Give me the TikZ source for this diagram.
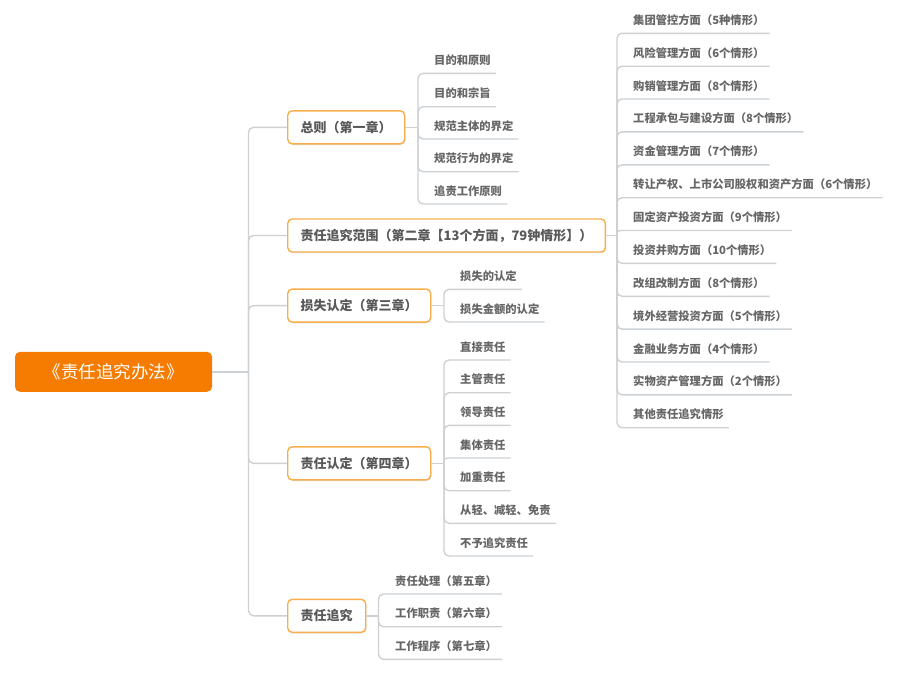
\documentclass[tikz,border=0pt]{standalone}
\usepackage{fontspec}
\setmainfont{Noto Sans CJK SC}
\usetikzlibrary{calc,shadows}
\definecolor{rootor}{HTML}{F57C00}
\definecolor{boxor}{HTML}{F8AE4C}
\definecolor{conncol}{HTML}{CDD1D4}
\definecolor{txtA}{HTML}{595959}
\definecolor{txtB}{HTML}{666666}
\begin{document}
\begin{tikzpicture}[x=1pt,y=-1pt,
  rootbox/.style={fill=rootor, rounded corners=5pt, text=white,
    font=\fontsize{17.5}{20}\selectfont, minimum width=197pt, minimum height=40pt,
    inner sep=0pt, text height=14.5pt, text depth=1.2pt},
  topic/.style={draw=boxor, line width=1.4pt, fill=white, rounded corners=4.5pt,
    text=txtA, font=\fontsize{13}{15}\selectfont\bfseries, minimum height=33pt,
    inner xsep=13pt, inner ysep=0pt, text height=10.8pt, text depth=1pt, anchor=west,
    drop shadow={shadow xshift=0.6pt, shadow yshift=-1.2pt, opacity=0.12, fill=black}},
  leaf/.style={text=txtB, font=\fontsize{11.3}{13}\selectfont\bfseries,
    inner xsep=0pt, inner ysep=8pt, text height=9.4pt, text depth=0.8pt, anchor=south west},
  link/.style={draw=conncol, line width=1.4pt, rounded corners=5pt},
]
\useasboundingbox (0,0) rectangle (902,672);

% ---------- nodes ----------
\node[rootbox] (root) at (113.5,371.8) {《责任追究办法》};

\node[topic] (t1) at (287,127.3) {总则（第一章）};
\node[topic] (t2) at (287,235.5) {责任追究范围（第二章【13个方面，79钟情形】）};
\node[topic] (t3) at (287,305.6) {损失认定（第三章）};
\node[topic] (t4) at (287,463.3) {责任认定（第四章）};
\node[topic] (t5) at (287,615.8) {责任追究};

% group 1
\node[leaf] (a1) at (434,73.3) {目的和原则};
\node[leaf] (a2) at (434,106.7) {目的和宗旨};
\node[leaf] (a3) at (434,139) {规范主体的界定};
\node[leaf] (a4) at (434,171.7) {规范行为的界定};
\node[leaf] (a5) at (434,204) {追责工作原则};

% group 2
\node[leaf] (b1) at (633,33.3) {集团管控方面（5种情形）};
\node[leaf] (b2) at (633,66.2) {风险管理方面（6个情形）};
\node[leaf] (b3) at (633,99.0) {购销管理方面（8个情形）};
\node[leaf] (b4) at (633,131.9) {工程承包与建设方面（8个情形）};
\node[leaf] (b5) at (633,164.8) {资金管理方面（7个情形）};
\node[leaf] (b6) at (633,197.7) {转让产权、上市公司股权和资产方面（6个情形）};
\node[leaf] (b7) at (633,230.5) {固定资产投资方面（9个情形）};
\node[leaf] (b8) at (633,263.4) {投资并购方面（10个情形）};
\node[leaf] (b9) at (633,296.3) {改组改制方面（8个情形）};
\node[leaf] (b10) at (633,329.1) {境外经营投资方面（5个情形）};
\node[leaf] (b11) at (633,362.0) {金融业务方面（4个情形）};
\node[leaf] (b12) at (633,394.9) {实物资产管理方面（2个情形）};
\node[leaf] (b13) at (633,427.7) {其他责任追究情形};

% group 3
\node[leaf] (c1) at (460,289.3) {损失的认定};
\node[leaf] (c2) at (460,322) {损失金额的认定};

% group 4
\node[leaf] (d1) at (460,360) {直接责任};
\node[leaf] (d2) at (460,392.7) {主管责任};
\node[leaf] (d3) at (460,425.3) {领导责任};
\node[leaf] (d4) at (460,458) {集体责任};
\node[leaf] (d5) at (460,490.7) {加重责任};
\node[leaf] (d6) at (460,523.3) {从轻、减轻、免责};
\node[leaf] (d7) at (460,556) {不予追究责任};

% group 5
\node[leaf] (e1) at (395,594) {责任处理（第五章）};
\node[leaf] (e2) at (395,626.7) {工作职责（第六章）};
\node[leaf] (e3) at (395,659.3) {工作程序（第七章）};

% ---------- connectors ----------
\coordinate (trunk) at (248.5,371.8);
\draw[link] (root.east) -- (trunk);
\foreach \t in {t1,t2,t3,t4,t5}
  \draw[link] (trunk) -- (trunk |- \t.west) -- (\t.west);

\coordinate (s1) at (418,127.3);
\coordinate (s2) at (617,235.5);
\coordinate (s3) at (444,305.6);
\coordinate (s4) at (444,463.3);
\coordinate (s5) at (378.5,615.8);
\draw[link] (t1.east) -- (s1);
\draw[link] (t2.east) -- (s2);
\draw[link] (t3.east) -- (s3);
\draw[link] (t4.east) -- (s4);
\draw[link] (t5.east) -- (s5);

\foreach \c in {a1,a2,a3,a4,a5}
  \draw[link] (s1) -- (s1 |- \c.south) -- ($(\c.south east)+(5,0)$);
\foreach \c in {b1,b2,b3,b4,b5,b6,b8,b9,b10,b11,b12,b13}
  \draw[link] (s2) -- (s2 |- \c.south) -- ($(\c.south east)+(5,0)$);
\draw[link, rounded corners=3pt] (s2) -- (s2 |- b7.south) -- ($(b7.south east)+(5,0)$);
\foreach \c in {c1,c2}
  \draw[link] (s3) -- (s3 |- \c.south) -- ($(\c.south east)+(5,0)$);
\foreach \c in {d1,d2,d3,d5,d6,d7}
  \draw[link] (s4) -- (s4 |- \c.south) -- ($(\c.south east)+(5,0)$);
\draw[link, rounded corners=3pt] (s4) -- (s4 |- d4.south) -- ($(d4.south east)+(5,0)$);
\foreach \c in {e1,e2,e3}
  \draw[link] (s5) -- (s5 |- \c.south) -- ($(\c.south east)+(5,0)$);
\end{tikzpicture}
\end{document}
